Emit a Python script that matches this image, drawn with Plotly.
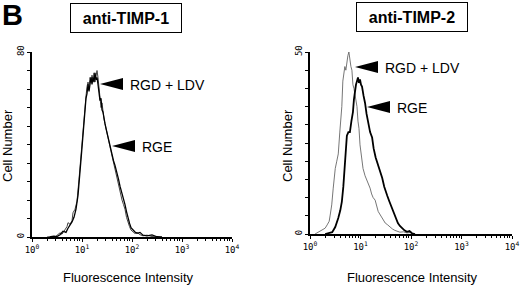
import plotly.graph_objects as go

# ---------------- data (log10 fluorescence intensity, cell counts) ----------------
# Left panel: anti-TIMP-1
t1_rgd_logx = [0.30, 0.40, 0.46, 0.50, 0.56, 0.60, 0.66, 0.70, 0.72, 0.76, 0.80, 0.82, 0.86, 0.90,
               0.94, 0.97, 1.00, 1.02, 1.04, 1.06, 1.08, 1.10, 1.12, 1.14, 1.16, 1.18, 1.20, 1.22,
               1.24, 1.26, 1.28, 1.30, 1.32, 1.34, 1.36, 1.38, 1.40, 1.42, 1.44, 1.46, 1.48, 1.50,
               1.52, 1.54, 1.56, 1.58, 1.60, 1.63, 1.66, 1.70, 1.73, 1.76, 1.80, 1.83, 1.86, 1.89,
               1.92, 1.95, 1.98, 2.02, 2.06, 2.10, 2.16, 2.22, 2.30, 2.40, 2.50]
t1_rgd_count = [0.0, 0.3, 0.0, 0.8, 1.8, 1.2, 3.0, 4.5, 6.2, 5.5, 7.0, 10.5, 12.0, 15.5,
                25, 33, 41, 49, 54, 58, 61, 65, 67, 65, 69, 67, 70, 68,
                71, 67, 70, 72, 69, 65, 62, 56, 58, 53, 51, 49, 46, 45,
                43, 40, 39, 37, 35, 32, 29, 26, 22, 19, 16, 14, 12, 8.5,
                6, 4.5, 3.0, 2.2, 1.5, 2.0, 1.0, 0.5, 0.8, 0.2, 0]

t1_rge_logx = [0.36, 0.44, 0.50, 0.56, 0.62, 0.68, 0.72, 0.76, 0.80, 0.84, 0.88, 0.92, 0.96, 0.99,
               1.02, 1.04, 1.06, 1.08, 1.10, 1.12, 1.14, 1.16, 1.18, 1.20, 1.22, 1.24, 1.26, 1.28,
               1.30, 1.32, 1.34, 1.36, 1.38, 1.40, 1.42, 1.44, 1.46, 1.48, 1.50, 1.52, 1.54, 1.56,
               1.58, 1.60, 1.63, 1.66, 1.70, 1.73, 1.76, 1.80, 1.83, 1.86, 1.89, 1.92, 1.95, 1.98,
               2.02, 2.06, 2.10, 2.16, 2.22, 2.30, 2.40, 2.50, 2.60]
t1_rge_count = [0, 0.4, 0.2, 1.0, 2.5, 2.0, 3.8, 5.0, 6.5, 8.5, 12, 18, 27, 36,
                44, 51, 56, 60, 62, 66, 63, 67, 69, 66, 69, 67, 71, 68,
                69, 66, 63, 59, 60, 55, 54, 50, 49, 47, 45, 44, 41, 40,
                38, 36, 33, 31, 28, 25, 22, 19, 16.5, 14, 11, 8, 6, 4,
                3, 2.2, 1.6, 2.0, 0.8, 0.5, 0.9, 0.1, 0]

# Right panel: anti-TIMP-2
t2_rgd_logx = [0.10, 0.16, 0.22, 0.26, 0.30, 0.34, 0.38, 0.40, 0.43, 0.46, 0.48, 0.50, 0.53, 0.56,
               0.59, 0.61, 0.63, 0.65, 0.67, 0.69, 0.71, 0.73, 0.75, 0.77, 0.79, 0.81, 0.83, 0.85,
               0.87, 0.89, 0.91, 0.93, 0.95, 0.97, 0.99, 1.02, 1.05, 1.09, 1.12, 1.15, 1.19, 1.22,
               1.25, 1.29, 1.32, 1.35, 1.38, 1.42, 1.45, 1.49, 1.53, 1.58, 1.63, 1.68, 1.73, 1.78,
               1.85, 1.92, 1.98, 2.05]
t2_rgd_count = [0, 0.5, 0.8, 1.1, 1.6, 2.5, 3.5, 5.2, 8, 12.6, 16, 18, 20, 22,
                28, 31, 35, 42, 44, 46, 45, 48, 49, 50, 47, 46, 45, 41,
                40, 38, 37, 35, 31, 29, 24.5, 21, 18, 16, 15, 13.5, 12.6, 11,
                10, 9.3, 7.5, 6.2, 5.5, 4.5, 3.8, 3.0, 2.6, 1.9, 1.4, 1.0, 0.8, 0.5,
                0.6, 0.3, 0.4, 0]

t2_rge_logx = [0.30, 0.36, 0.44, 0.50, 0.53, 0.56, 0.60, 0.63, 0.66, 0.69, 0.71, 0.73, 0.76, 0.79,
               0.82, 0.85, 0.87, 0.89, 0.91, 0.93, 0.95, 0.97, 0.99, 1.01, 1.03, 1.06, 1.09, 1.12,
               1.15, 1.19, 1.23, 1.26, 1.30, 1.33, 1.36, 1.40, 1.43, 1.47, 1.50, 1.53, 1.57, 1.62,
               1.66, 1.70, 1.74, 1.78, 1.82, 1.87, 1.92, 1.97, 2.02, 2.08]
t2_rge_count = [0, 0.3, 0.5, 1.9, 3.0, 4.4, 6.5, 8.8, 13, 18, 22, 27, 28, 28,
                31, 33.5, 37, 40, 41, 42, 43, 41.5, 42.5, 41, 40.5, 38, 36, 33,
                30.8, 28, 26.5, 23.5, 21, 19.8, 18, 16.5, 15.4, 13, 11.5, 10.5, 9, 7.1,
                5.5, 4.0, 3.0, 2.2, 1.6, 1.0, 0.6, 0.8, 0.2, 0]

decade_vals = [1, 10, 100, 1000, 10000]
decade_text = ["10<sup>0</sup>", "10<sup>1</sup>", "10<sup>2</sup>", "10<sup>3</sup>", "10<sup>4</sup>"]
minor_vals = [m * d for d in [1, 10, 100, 1000] for m in range(2, 10)]

panel_titles = ["anti-TIMP-1", "anti-TIMP-2"]
ymax_left, ymax_right = 80, 50

# ---------------- figure ----------------
W, H = 520, 285
def px(xp):
    return xp / W
def py(yp):
    return 1 - yp / H

fig = go.Figure()

def lin(v):
    return [10 ** a for a in v]

fig.add_trace(go.Scatter(x=lin(t1_rgd_logx), y=t1_rgd_count, mode="lines",
                         line=dict(color="#444444", width=1.0), xaxis="x", yaxis="y",
                         showlegend=False))
fig.add_trace(go.Scatter(x=lin(t1_rge_logx), y=t1_rge_count, mode="lines",
                         line=dict(color="#000000", width=1.3), xaxis="x", yaxis="y",
                         showlegend=False))
fig.add_trace(go.Scatter(x=lin(t2_rgd_logx), y=t2_rgd_count, mode="lines",
                         line=dict(color="#666666", width=0.9), xaxis="x2", yaxis="y2",
                         showlegend=False))
fig.add_trace(go.Scatter(x=lin(t2_rge_logx), y=t2_rge_count, mode="lines",
                         line=dict(color="#000000", width=1.8), xaxis="x2", yaxis="y2",
                         showlegend=False))

tickfont = dict(family="DejaVu Sans Mono", size=9, color="black")

def xaxis_cfg(dom, anchor):
    return dict(type="log", domain=dom, range=[0, 4], anchor=anchor, automargin=False,
                showline=True, linecolor="black", linewidth=1.5, showgrid=False, zeroline=False,
                ticks="outside", ticklen=3, tickcolor="black", tickwidth=1,
                tickvals=decade_vals, ticktext=decade_text, tickfont=tickfont,
                minor=dict(tickvals=minor_vals, ticks="outside", ticklen=2,
                           tickcolor="black", showgrid=False))

def yaxis_cfg(dom, anchor, ymax):
    step = ymax / 10
    mvals = [i * step for i in range(1, 10)]
    return dict(domain=dom, range=[0, ymax], anchor=anchor, automargin=False,
                showline=True, linecolor="black", linewidth=1.5, showgrid=False, zeroline=False,
                ticks="outside", ticklen=3, tickcolor="black",
                tickvals=[0, ymax], ticktext=["0", str(ymax)], tickangle=-90, tickfont=tickfont,
                minor=dict(tickvals=mvals, ticks="outside", ticklen=3,
                           tickcolor="black", showgrid=False))

fig.update_layout(
    width=W, height=H, autosize=False,
    margin=dict(l=0, r=0, t=0, b=0, pad=0),
    paper_bgcolor="white", plot_bgcolor="white",
    xaxis=xaxis_cfg([px(32), px(232)], "y"),
    yaxis=yaxis_cfg([py(237), py(52)], "x", ymax_left),
    xaxis2=xaxis_cfg([px(310), px(512)], "y2"),
    yaxis2=yaxis_cfg([py(234), py(52)], "x2", ymax_right),
    font=dict(family="Liberation Sans, Arial", color="black"),
)

ann = []
# Panel letter
ann.append(dict(x=px(0), y=py(-3), xref="paper", yref="paper", xanchor="left", yanchor="top",
                text="<b>B</b>", showarrow=False, font=dict(size=29, family="Liberation Sans")))
# Title boxes
for cx, cy, t in [(126, 18, panel_titles[0]), (412, 17, panel_titles[1])]:
    ann.append(dict(x=px(cx), y=py(cy), xref="paper", yref="paper", xanchor="center",
                    yanchor="middle", text="<b>%s</b>" % t, showarrow=False,
                    font=dict(size=16, family="Liberation Sans"),
                    bordercolor="black", borderwidth=1, width=108, height=26, bgcolor="white"))
# Axis titles
for cx in [7, 287]:
    ann.append(dict(x=px(cx), y=py(146), xref="paper", yref="paper", xanchor="center",
                    yanchor="middle", text="Cell Number", textangle=-90, showarrow=False,
                    font=dict(size=13)))
for cx in [128, 412]:
    ann.append(dict(x=px(cx), y=py(277), xref="paper", yref="paper", xanchor="center",
                    yanchor="middle", text="Fluorescence Intensity", showarrow=False,
                    font=dict(size=13)))

# Arrow labels: (tip_x, tip_y, text)
labels = [(100, 84, "RGD + LDV"), (112, 146, "RGE"), (355, 67, "RGD + LDV"), (367, 107, "RGE")]
shapes = []
for tx, ty, t in labels:
    bx = tx + 23
    path = "M %f,%f L %f,%f L %f,%f Z" % (px(tx), py(ty), px(bx), py(ty - 6), px(bx), py(ty + 6))
    shapes.append(dict(type="path", path=path, xref="paper", yref="paper",
                       fillcolor="black", line=dict(color="black", width=0)))
    ann.append(dict(x=px(bx + 5), y=py(ty + 1), xref="paper", yref="paper", xanchor="left",
                    yanchor="middle", text=t, showarrow=False, font=dict(size=14)))

fig.update_layout(annotations=ann, shapes=shapes)
fig.write_html("out.html", config={"displayModeBar": False},
               post_script="document.body.style.margin='0';document.body.style.padding='0';"
                           "document.documentElement.style.overflow='hidden';")
